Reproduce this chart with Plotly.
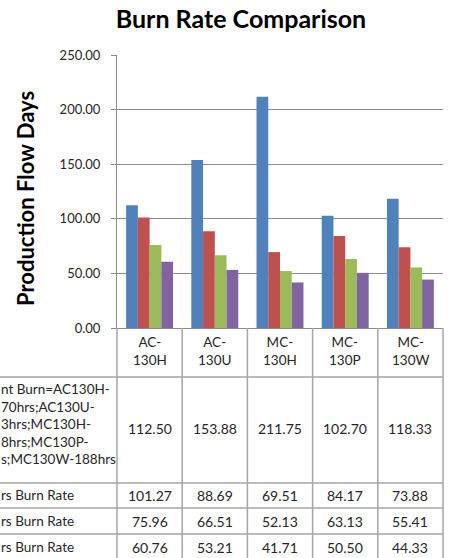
import plotly.graph_objects as go

categories = ["AC-130H", "AC-130U", "MC-130H", "MC-130P", "MC-130W"]
current_burn = [112.50, 153.88, 211.75, 102.70, 118.33]
rate_2 = [101.27, 88.69, 69.51, 84.17, 73.88]
rate_3 = [75.96, 66.51, 52.13, 63.13, 55.41]
rate_4 = [60.76, 53.21, 41.71, 50.50, 44.33]
row_labels = [
    "nt Burn=AC130H-<br>70hrs;AC130U-<br>3hrs;MC130H-<br>8hrs;MC130P-<br>s;MC130W-188hrs",
    "rs Burn Rate",
    "rs Burn Rate",
    "rs Burn Rate",
]
y_ticks = [0, 50, 100, 150, 200, 250]

series = [current_burn, rate_2, rate_3, rate_4]
colors = ["#4F81BD", "#C0504D", "#9BBB59", "#8064A2"]

W, H = 450, 558
L, R, T, B = 117, 7, 55, 230
pw = W - L - R
ph = H - T - B


def px(x):
    return (x - L) / pw


def py(y):
    return (H - B - y) / ph


FONT = "Lato"
TXT = "#262626"
fig = go.Figure()
for vals, col, name in zip(series, colors, row_labels):
    fig.add_trace(go.Bar(x=categories, y=vals, marker=dict(color=col, line=dict(width=0)),
                         name=name.replace("<br>", " ")))

grid = "#8C8C8C"
tbl = "#A6A6A6"
shapes = []
for y in [377, 483, 508, 534]:
    shapes.append(dict(type="line", xref="paper", yref="paper", x0=px(-2), x1=1, y0=py(y), y1=py(y),
                       line=dict(color=tbl, width=1.5)))
for i in range(len(categories) + 1):
    xx = i / len(categories)
    shapes.append(dict(type="line", xref="paper", yref="paper", x0=xx, x1=xx, y0=0, y1=py(H + 5),
                       line=dict(color=tbl, width=1.5)))

annotations = []
for c in categories:
    annotations.append(dict(x=c, xref="x", y=py(351), yref="paper", yanchor="middle",
                            text=c.replace("-", "-<br>", 1), showarrow=False, align="center",
                            font=dict(family=FONT, size=13.5, color=TXT)))
for vals, yc in zip(series, [428, 495, 521, 547]):
    for c, v in zip(categories, vals):
        annotations.append(dict(x=c, xref="x", y=py(yc), yref="paper", yanchor="middle",
                                text=f"{v:.2f}", showarrow=False,
                                font=dict(family=FONT, size=14, color=TXT)))
for lab, yc in zip(row_labels, [424, 495, 521, 547]):
    annotations.append(dict(x=px(-1), xref="paper", xanchor="left", y=py(yc), yref="paper",
                            yanchor="middle", text=lab, showarrow=False, align="left",
                            font=dict(family=FONT, size=13.5, color=TXT)))
annotations.append(dict(x=px(25), xref="paper", xanchor="center", y=py(199), yref="paper",
                        yanchor="middle", text="<b>Production Flow Days</b>", textangle=-90,
                        showarrow=False, font=dict(family=FONT, size=22, color="#000000")))

fig.update_layout(
    width=W, height=H,
    margin=dict(l=L, r=R, t=T, b=B, pad=0),
    paper_bgcolor="white", plot_bgcolor="white",
    showlegend=False,
    barmode="group", bargap=0.28, bargroupgap=0,
    title=dict(text="<b>Burn Rate Comparison</b>", x=241 / W, xref="container", xanchor="center",
               y=1 - 19 / H, yanchor="middle", font=dict(family=FONT, size=25, color="#000000")),
    xaxis=dict(showticklabels=False, showgrid=False, zeroline=False, showline=True,
               linecolor=grid, linewidth=1, ticks=""),
    yaxis=dict(range=[0, 250], tickvals=y_ticks, tickformat=".2f", showgrid=True, gridcolor=grid,
               gridwidth=1, zeroline=False, showline=True, linecolor=grid, linewidth=1,
               ticks="outside", ticklen=5, tickcolor=grid, ticklabelstandoff=8,
               tickfont=dict(family=FONT, size=13, color=TXT)),
    shapes=shapes,
    annotations=annotations,
)
fig.write_html("out.html")
